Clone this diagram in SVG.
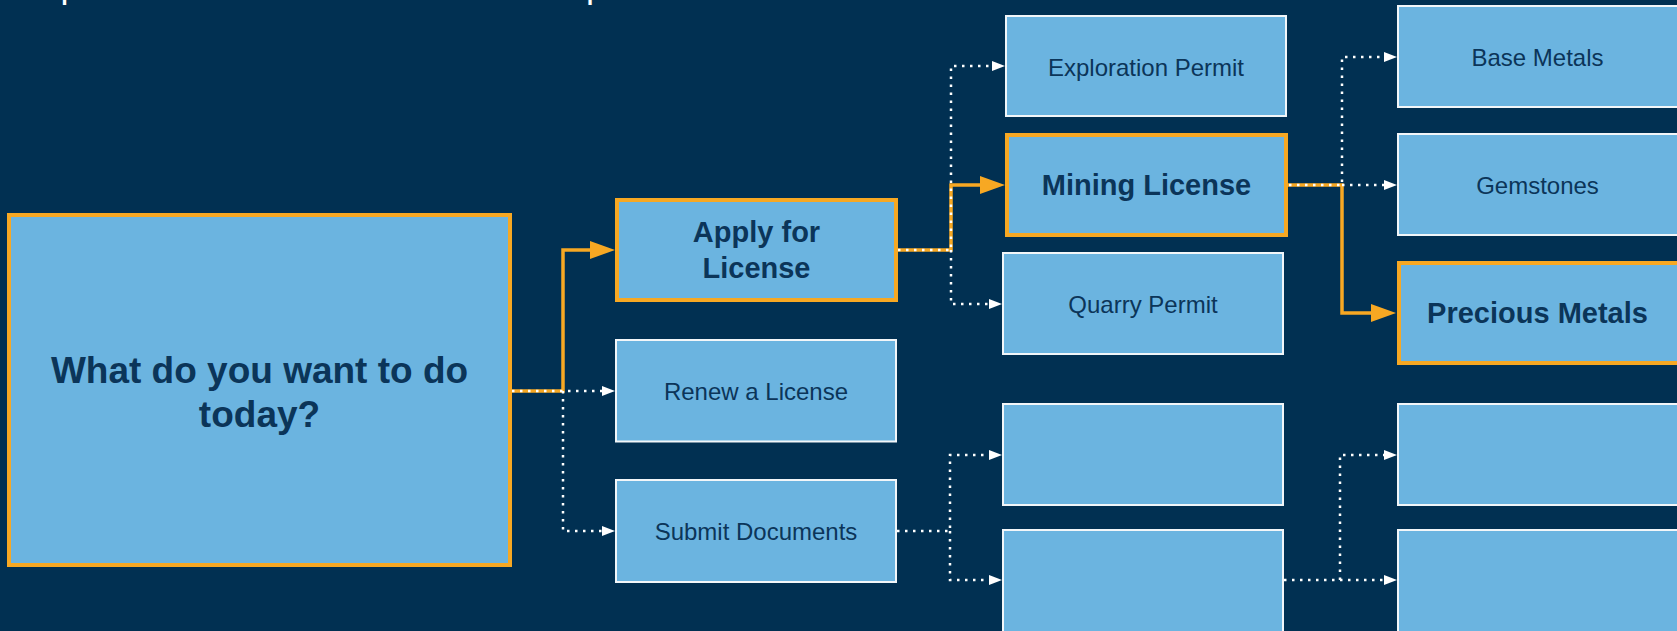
<svg xmlns="http://www.w3.org/2000/svg" width="1677" height="631" viewBox="0 0 1677 631">
  <style>
    .bg { fill: #013052; }
    .node { fill: #6BB4E0; stroke: #F2F6F9; stroke-width: 2; }
    .hl { fill: #6BB4E0; stroke: #F7A823; stroke-width: 4; }
    .t { font-family: "Liberation Sans", Arial, sans-serif; fill: #0B3559; text-anchor: middle; }
    .reg { font-size: 24px; }
    .bold { font-size: 29px; font-weight: bold; }
    .big { font-size: 37px; font-weight: bold; }
    .dot { fill: none; stroke: #FFFFFF; stroke-width: 2.5; stroke-dasharray: 2.5 5.5; }
    .ora { fill: none; stroke: #F7A823; stroke-width: 3.5; }
    .frag { font-family: "Liberation Sans", Arial, sans-serif; font-size: 36px; fill: #FFFFFF; }
  </style>
  <defs>
    <marker id="aw" markerUnits="userSpaceOnUse" markerWidth="13" markerHeight="10" refX="0" refY="5" orient="auto">
      <path d="M0,0 L13,5 L0,10 z" fill="#FFFFFF"/>
    </marker>
    <marker id="ao" markerUnits="userSpaceOnUse" markerWidth="25" markerHeight="18" refX="0" refY="9" orient="auto">
      <path d="M0,0 L25,9 L0,18 z" fill="#F7A823"/>
    </marker>
  </defs>
  <rect class="bg" x="0" y="0" width="1677" height="631"/>

  <g id="title-fragment">
    <text class="frag" x="60.6" y="-2.6">p</text>
    <text class="frag" x="585.9" y="-2.6">p</text>
  </g>

  <g id="connectors">
    <!-- orange highlighted path -->
    <path class="ora" d="M510,391 H563 V250 H590" marker-end="url(#ao)"/>
    <path class="ora" d="M897,250 H951 V185 H980" marker-end="url(#ao)"/>
    <path class="ora" d="M1287,185 H1342 V313 H1371" marker-end="url(#ao)"/>
    <!-- dotted connectors -->
    <path class="dot" d="M512,391 H602" marker-end="url(#aw)"/>
    <path class="dot" d="M563,391 V531 H602" marker-end="url(#aw)"/>
    <path class="dot" d="M898,250 H951 V66 H992" marker-end="url(#aw)"/>
    <path class="dot" d="M951,250 V304 H989" marker-end="url(#aw)"/>
    <path class="dot" d="M1289,185 H1342 V57 H1384" marker-end="url(#aw)"/>
    <path class="dot" d="M1342,185 H1384" marker-end="url(#aw)"/>
    <path class="dot" d="M897,531 H950 V455 H989" marker-end="url(#aw)"/>
    <path class="dot" d="M950,531 V580 H989" marker-end="url(#aw)"/>
    <path class="dot" d="M1284,580 H1340 V455 H1384" marker-end="url(#aw)"/>
    <path class="dot" d="M1340,580 H1384" marker-end="url(#aw)"/>
  </g>

  <g id="node-start">
    <rect class="hl" x="9" y="215" width="501" height="350"/>
    <text class="t big" x="259.5" y="383">What do you want to do</text>
    <text class="t big" x="259.5" y="427">today?</text>
  </g>
  <g id="node-apply">
    <rect class="hl" x="617" y="200" width="279" height="100"/>
    <text class="t bold" x="756.5" y="242">Apply for</text>
    <text class="t bold" x="756.5" y="278">License</text>
  </g>
  <g id="node-renew">
    <rect class="node" x="616" y="340" width="280" height="101.5"/>
    <text class="t reg" x="756" y="399.5">Renew a License</text>
  </g>
  <g id="node-submit">
    <rect class="node" x="616" y="480" width="280" height="102"/>
    <text class="t reg" x="756" y="540">Submit Documents</text>
  </g>
  <g id="node-exploration">
    <rect class="node" x="1006" y="16" width="280" height="100"/>
    <text class="t reg" x="1146" y="75.5">Exploration Permit</text>
  </g>
  <g id="node-mining">
    <rect class="hl" x="1007" y="135" width="279" height="100"/>
    <text class="t bold" x="1146.5" y="195">Mining License</text>
  </g>
  <g id="node-quarry">
    <rect class="node" x="1003" y="253" width="280" height="101"/>
    <text class="t reg" x="1143" y="312.5">Quarry Permit</text>
  </g>
  <g id="node-empty-1">
    <rect class="node" x="1003" y="404" width="280" height="101"/>
  </g>
  <g id="node-empty-2">
    <rect class="node" x="1003" y="530" width="280" height="104"/>
  </g>
  <g id="node-base-metals">
    <rect class="node" x="1398" y="6" width="282" height="101"/>
    <text class="t reg" x="1537.5" y="66">Base Metals</text>
  </g>
  <g id="node-gemstones">
    <rect class="node" x="1398" y="134" width="282" height="101"/>
    <text class="t reg" x="1537.5" y="194">Gemstones</text>
  </g>
  <g id="node-precious-metals">
    <rect class="hl" x="1399" y="263" width="282" height="100"/>
    <text class="t bold" x="1537.5" y="323">Precious Metals</text>
  </g>
  <g id="node-empty-3">
    <rect class="node" x="1398" y="404" width="282" height="101"/>
  </g>
  <g id="node-empty-4">
    <rect class="node" x="1398" y="530" width="282" height="104"/>
  </g>
</svg>
